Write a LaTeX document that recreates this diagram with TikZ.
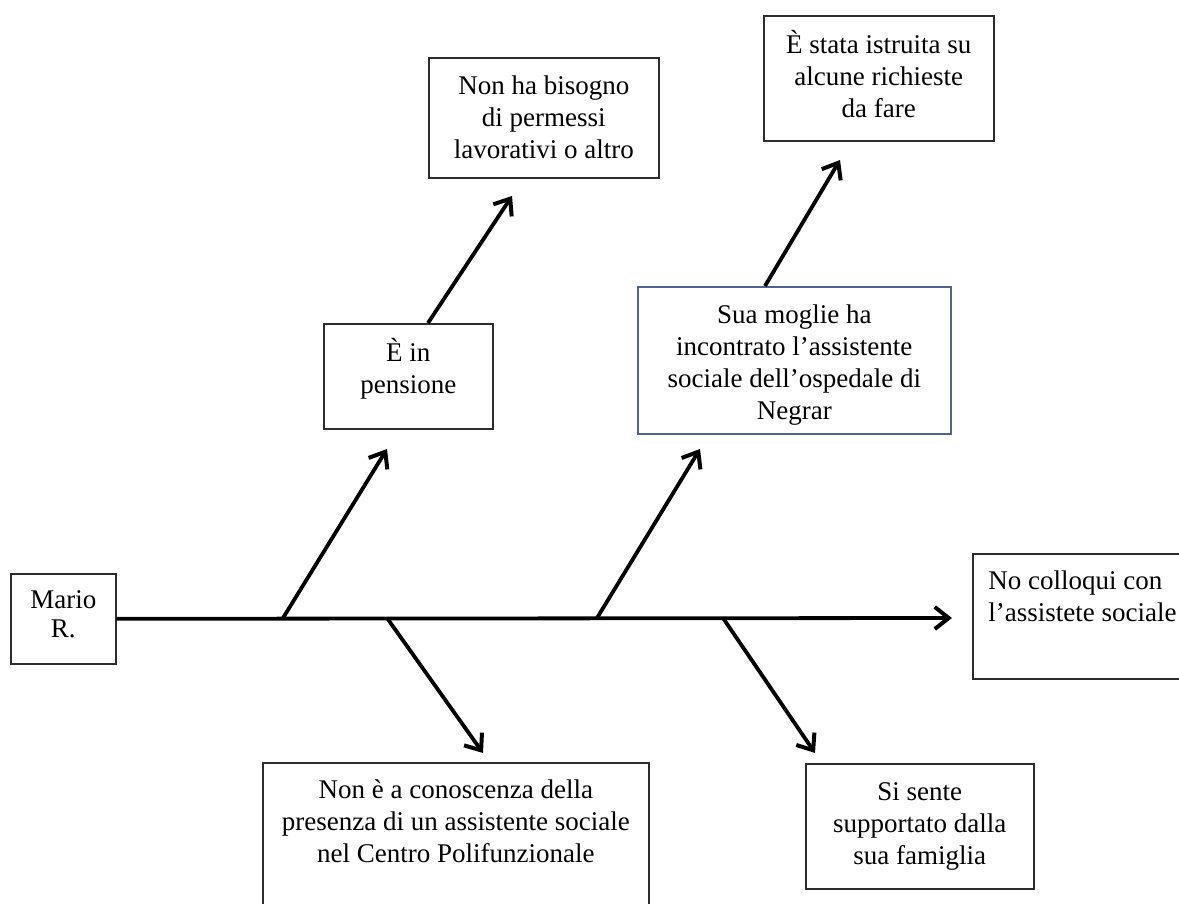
\documentclass[tikz,border=0pt]{standalone}
\usepackage{fontspec}
\setmainfont{Liberation Serif}
\usetikzlibrary{arrows.meta}
\definecolor{boxline}{RGB}{45,45,45}
\definecolor{blueline}{RGB}{80,100,140}
\tikzset{
  x=0.5pt, y=-0.5pt,
  box/.style={draw=boxline, line width=0.8pt, fill=white, anchor=north west, inner sep=0pt},
  txt/.style={anchor=north, align=center, inner sep=0pt,
    font=\fontsize{13.5pt}{16pt}\selectfont},
  flow/.style={line width=1.9pt, line cap=butt,
    -{Straight Barb[length=7pt,width=11pt,line width=2pt]}},
}
% box helper: name, top-left corner, width, height (in px units)
\newcommand{\fbbox}[5]{%
  \node[box, minimum width=#4pt*0.5, minimum height=#5pt*0.5] (#1) at (#2,#3) {};}
\begin{document}
\begin{tikzpicture}
\useasboundingbox (0,0) rectangle (1179,904);

% boxes
\fbbox{mario}{10}{573}{105}{90}
\fbbox{pens}{323}{323}{169}{105}
\fbbox{bisogno}{428}{57}{230}{120}
\fbbox{stata}{763}{15}{230}{125}
\node[box, draw=blueline, minimum width=156.5pt, minimum height=73.5pt] (moglie) at (637,286) {};
\fbbox{colloqui}{972}{553}{220}{125}
\fbbox{conosc}{262}{762}{386}{160}
\fbbox{sente}{805}{763}{228}{125}

% texts
\node[txt] (tmario) at ([yshift=-6.5pt]mario.north) {\strut Mario\\[-1.5pt]R.};
\node[txt] (tpens) at ([yshift=-7.5pt]pens.north) {\strut È in\\pensione};
\node[txt] (tbisogno) at ([yshift=-7.5pt]bisogno.north) {\strut Non ha bisogno\\di permessi\\lavorativi o altro};
\node[txt] (tstata) at ([yshift=-7.5pt]stata.north) {\strut È stata istruita su\\alcune richieste\\da fare};
\node[txt] (tmoglie) at ([yshift=-7.5pt]moglie.north) {\strut Sua moglie ha\\incontrato l’assistente\\sociale dell’ospedale di\\Negrar};
\node[txt, anchor=north west, align=left] (tcolloqui) at ([xshift=8pt,yshift=-7pt]colloqui.north west) {\strut No colloqui con\\l’assistete sociale};
\node[txt] (tconosc) at ([yshift=-7pt]conosc.north) {\strut Non è a conoscenza della\\presenza di un assistente sociale\\nel Centro Polifunzionale};
\node[txt] (tsente) at ([yshift=-7.5pt]sente.north) {\strut Si sente\\supportato dalla\\sua famiglia};

% spine and branch points
\coordinate (spineEnd) at (952,618);
\coordinate (b1) at (283,618);
\coordinate (b2) at (597,618);
\coordinate (b3) at (387,618);
\coordinate (b4) at (723,618);
\coordinate (t1) at (387,449);
\coordinate (t2) at (700,449);
\coordinate (t3) at (483,753);
\coordinate (t4) at (815,753);
\coordinate (pensTop) at (428,323);
\coordinate (pensTip) at (512,196);
\coordinate (moglieTop) at (765,286);
\coordinate (moglieTip) at (840,160);

\draw[flow] (mario.east) -- (spineEnd);
\draw[flow] (b1) -- (t1);
\draw[flow] (b2) -- (t2);
\draw[flow] (b3) -- (t3);
\draw[flow] (b4) -- (t4);
\draw[flow] (pensTop) -- (pensTip);
\draw[flow] (moglieTop) -- (moglieTip);
\end{tikzpicture}
\end{document}
